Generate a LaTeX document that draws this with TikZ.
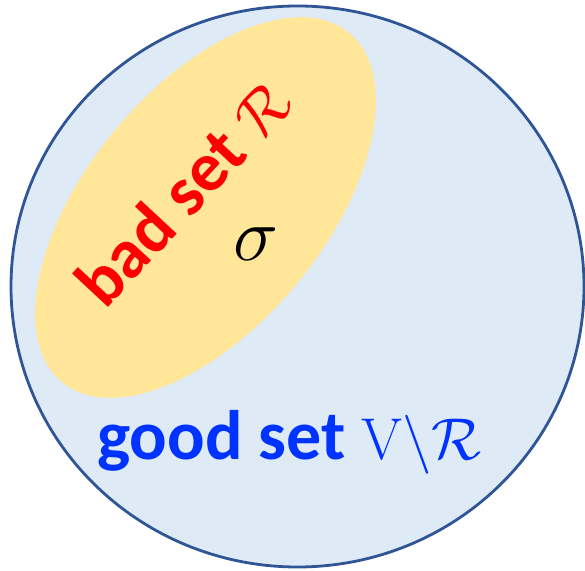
\RequirePackage{fix-cm}
\documentclass[tikz,border=0pt]{standalone}
\usepackage{fontspec}
\newfontfamily\calibri{Carlito}
\definecolor{ringblue}{HTML}{2F5597}
\definecolor{paleblue}{HTML}{DEEBF7}
\definecolor{paleyellow}{HTML}{FFE699}
\definecolor{goodblue}{RGB}{0,51,255}
\definecolor{badred}{RGB}{255,0,0}
\newcommand{\mathsz}{\fontsize{61}{66}\selectfont}
\newcommand{\mathszb}{\fontsize{59}{63}\selectfont}
\tikzset{
  ring/.style={draw=ringblue, line width=2.8pt, fill=paleblue},
  badregion/.style={fill=paleyellow, draw=none},
  bigtxt/.style={inner sep=0pt, font=\calibri\bfseries\fontsize{70}{74}\selectfont},
}
\begin{document}
\begin{tikzpicture}[x=1pt,y=1pt]
\useasboundingbox (0,0) rectangle (585,570);
\draw[ring] (297.5,283.5) ellipse [x radius=286.5, y radius=280.5];
\fill[badregion, rotate around={50.6:(205.5,362.5)}] (205.5,362.5) ellipse [x radius=226, y radius=119];
\node[bigtxt, text=badred, rotate=47] (bad) at (183,378) {bad set {\mathsz$\mathcal{R}$}};
\node[bigtxt, text=black, font=\fontsize{76}{80}\selectfont] (sigma) at (256,326) {$\sigma$};
\node[bigtxt, text=goodblue, anchor=base west] (good) at (97,111) {good set {\mathszb$\mathrm{V}\backslash\mathcal{R}$}};
\end{tikzpicture}
\end{document}
